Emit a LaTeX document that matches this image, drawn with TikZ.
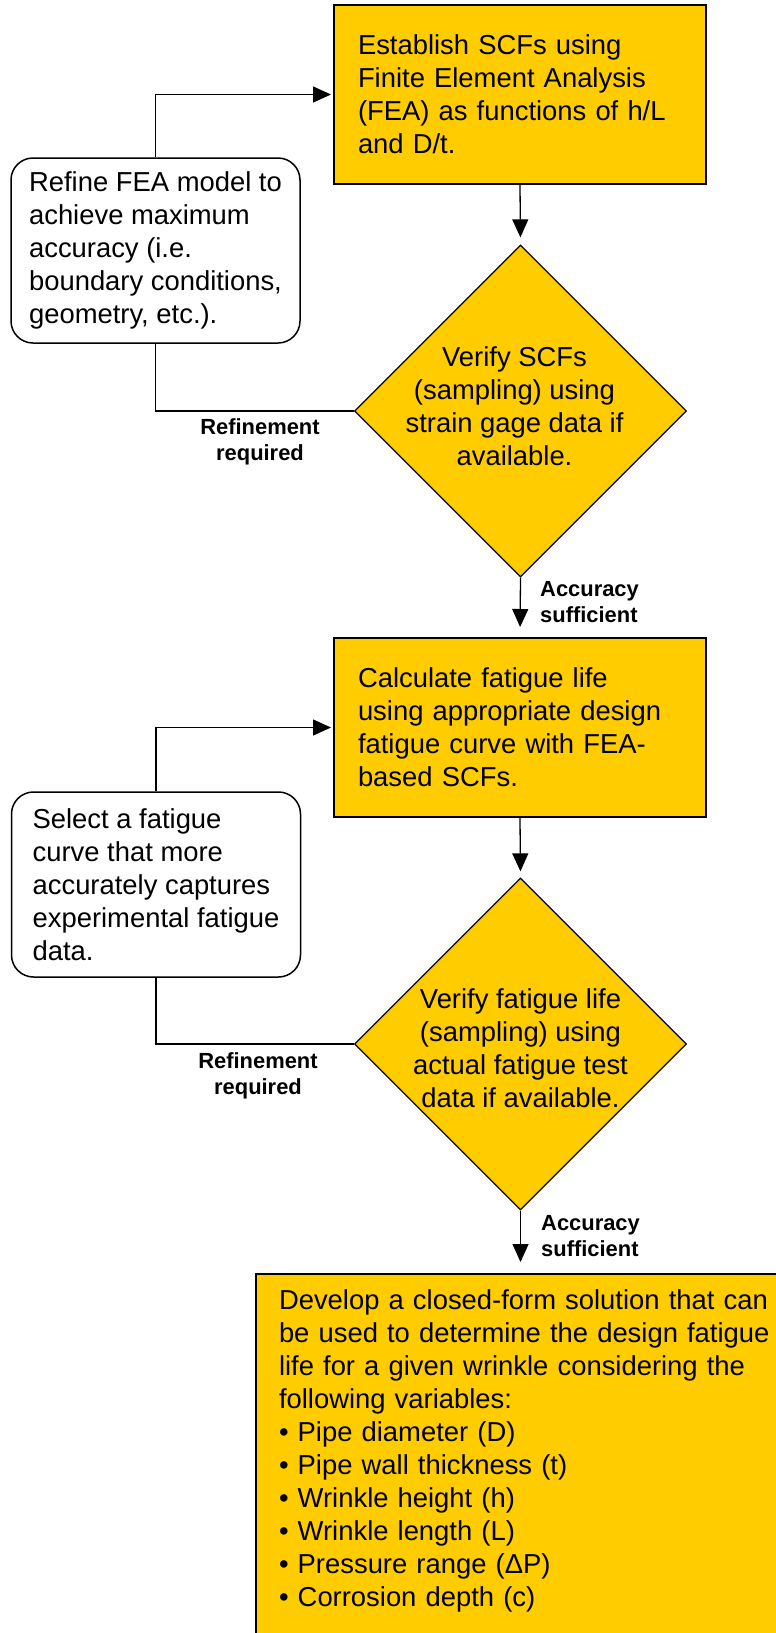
\documentclass[tikz,border=0pt]{standalone}
\usepackage{fontspec}
\setmainfont{Liberation Sans}
\usetikzlibrary{shapes.geometric,arrows.meta}
\definecolor{flowyellow}{HTML}{FFCC00}
\begin{document}
\begin{tikzpicture}[x=1pt,y=-1pt,
  every node/.style={font=\fontsize{27.4}{33}\selectfont, text=black},
  procbox/.style={draw, line width=2pt, fill=flowyellow, rectangle, align=left,
    inner xsep=24pt, text width=324pt, minimum width=372pt, minimum height=179pt},
  refbox/.style={draw, line width=1.5pt, fill=white, rounded corners=22pt, align=left,
    minimum width=289pt, minimum height=185pt, inner xsep=0pt},
  decision/.style={draw, line width=1.3pt, fill=flowyellow, diamond,
    minimum width=332pt, minimum height=332pt, inner sep=0pt},
  dtext/.style={align=center, inner sep=0pt},
  edgelabel/.style={font=\fontsize{21.9}{26}\selectfont\bfseries, inner sep=0pt},
  conn/.style={line width=1.3pt},
  arr/.style={conn, -{Triangle[length=18pt,width=16pt]}}
]
\clip (0,0) rectangle (776,1633);

\node[procbox] (box1) at (520,94.5) {Establish SCFs using\\Finite Element Analysis\\(FEA) as functions of h/L\\and D/t.};
\node[refbox] (refine) at (155.5,250.5) {Refine FEA model to\\achieve maximum\\accuracy (i.e.\\boundary conditions,\\geometry, etc.).};
\node[decision, label={[dtext, xshift=-6pt, yshift=5pt]center:{Verify SCFs\\(sampling) using\\strain gage data if\\available.}}] (d1) at (520.5,411) {};

\node[procbox] (box2) at (520,727.5) {Calculate fatigue life\\using appropriate design\\fatigue curve with FEA-\\based SCFs.};
\node[refbox] (select) at (156,884.5) {Select a fatigue\\curve that more\\accurately captures\\experimental fatigue\\data.};
\node[decision, label={[dtext, yshift=-4pt]center:{Verify fatigue life\\(sampling) using\\actual fatigue test\\data if available.}}] (d2) at (520.5,1044) {};

\node[draw, line width=2pt, fill=flowyellow, anchor=north west, align=left,
  text width=500pt, inner xsep=23.5pt, inner ysep=15pt, text height=20pt, text depth=400pt]
  (final) at (254.5,1273) {Develop a closed-form solution that can\\be used to determine the design fatigue\\life for a given wrinkle considering the\\following variables:\\• Pipe diameter (D)\\• Pipe wall thickness (t)\\• Wrinkle height (h)\\• Wrinkle length (L)\\• Pressure range (ΔP)\\• Corrosion depth (c)};

\node[edgelabel, align=center] (lab1) at (260,442) {Refinement\\required};
\node[edgelabel, align=left, anchor=west] (lab2) at (540,602) {Accuracy\\sufficient};
\node[edgelabel, align=center] (lab3) at (258,1075.5) {Refinement\\required};
\node[edgelabel, align=left, anchor=west] (lab4) at (541,1236.5) {Accuracy\\sufficient};

\draw[arr, shorten >=2pt] (refine.north) |- (box1.west);
\draw[conn] (d1.west) -| (refine.south);
\draw[arr, shorten >=7pt] (box1.south) -- (d1.north);
\draw[arr, shorten >=10pt] (d1.south) -- (box2.north);
\draw[arr, shorten >=2pt] (select.north) |- (box2.west);
\draw[conn] (d2.west) -| (select.south);
\draw[arr, shorten >=6pt] (box2.south) -- (d2.north);
\draw[arr, shorten >=11pt] (d2.south) -- (d2.south |- final.north);
\end{tikzpicture}
\end{document}
